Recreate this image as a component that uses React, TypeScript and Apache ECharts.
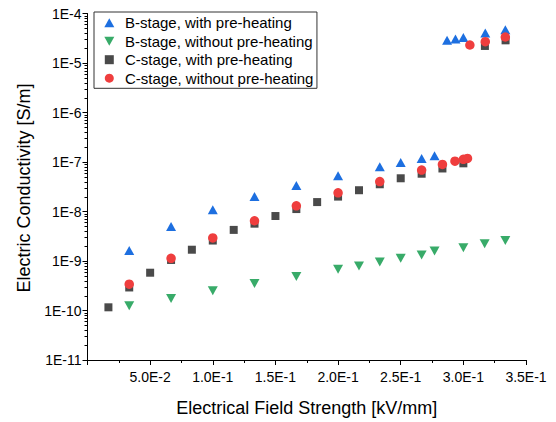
import React, { useEffect, useRef } from "react";
import * as echarts from "echarts";

// ---- data ----
const seriesNames = [
  "B-stage, with pre-heating",
  "B-stage, without pre-heating",
  "C-stage, with pre-heating",
  "C-stage, without pre-heating",
];

const bWithX = [0.0333, 0.0667, 0.1, 0.1333, 0.1667, 0.2, 0.2333, 0.25, 0.2667, 0.277, 0.287, 0.2937, 0.3, 0.3175, 0.3335];
const bWithY = [1.63e-9, 5.0e-9, 1.08e-8, 2.01e-8, 3.34e-8, 5.3e-8, 8.0e-8, 9.8e-8, 1.18e-7, 1.34e-7, 2.87e-5, 3.06e-5, 3.26e-5, 4.03e-5, 4.71e-5];

const bWithoutX = [0.0333, 0.0667, 0.1, 0.1333, 0.1667, 0.2, 0.2167, 0.2333, 0.25, 0.2667, 0.277, 0.3, 0.317, 0.3335];
const bWithoutY = [1.25e-10, 1.75e-10, 2.5e-10, 3.5e-10, 4.85e-10, 6.8e-10, 7.94e-10, 9.55e-10, 1.13e-9, 1.32e-9, 1.59e-9, 1.85e-9, 2.22e-9, 2.59e-9];

const cWithX = [0.0167, 0.0333, 0.05, 0.0667, 0.0833, 0.1, 0.1167, 0.1333, 0.15, 0.1667, 0.1833, 0.2, 0.2167, 0.2333, 0.25, 0.2667, 0.2833, 0.3, 0.3172, 0.3337];
const cWithY = [1.16e-10, 2.92e-10, 5.8e-10, 1.05e-9, 1.69e-9, 2.59e-9, 4.25e-9, 5.68e-9, 8.1e-9, 1.12e-8, 1.55e-8, 2.0e-8, 2.69e-8, 3.55e-8, 4.69e-8, 5.8e-8, 7.4e-8, 9.4e-8, 2.21e-5, 2.87e-5];

const cWithoutX = [0.0333, 0.0667, 0.1, 0.1333, 0.1667, 0.2, 0.2333, 0.2667, 0.2833, 0.2933, 0.3, 0.3033, 0.3052, 0.3175, 0.3335];
const cWithoutY = [3.4e-10, 1.13e-9, 2.93e-9, 6.5e-9, 1.3e-8, 2.38e-8, 4.02e-8, 6.87e-8, 8.93e-8, 1.04e-7, 1.13e-7, 1.18e-7, 2.31e-5, 2.7e-5, 3.35e-5];

// axis decoration: log minor ticks
const decadeExponents = [-11, -10, -9, -8, -7, -6, -5];
const minorMultipliers = [2, 3, 4, 5, 6, 7, 8, 9];

const colors = ["#1d6fe0", "#38ab69", "#4a4a4a", "#ef3e3e"];
const FONT = "'Liberation Sans', Arial, Helvetica, sans-serif";
const DOWN_TRI = "path://M0,0 L10,0 L5,9 Z";
const SQUARE = "path://M0,0 L8,0 L8,8 L0,8 Z";

const zip = (xs: number[], ys: number[]) => xs.map((x, i) => [x, ys[i]]);

export default function App() {
  const ref = useRef<HTMLDivElement>(null);

  useEffect(() => {
    if (!ref.current) return;
    const chart = echarts.init(ref.current, undefined, { renderer: "svg" });

    const minorTicks: number[][] = [];
    decadeExponents.forEach((e) => {
      minorMultipliers.forEach((m) => {
        minorTicks.push([0, m * Math.pow(10, e)]);
      });
    });

    const option: any = {
      animation: false,
      backgroundColor: "#ffffff",
      textStyle: { fontFamily: FONT },
      grid: { left: 87.5, right: 30, top: 13.5, bottom: 58, containLabel: false },
      legend: {
        orient: "vertical",
        left: 94,
        top: 12,
        padding: [3.2, 3.5, 2.6, 10.3],
        itemWidth: 21.4,
        itemHeight: 9,
        itemGap: 3.5,
        symbolKeepAspect: true,
        borderColor: "#333",
        borderWidth: 1,
        borderRadius: 0,
        selectedMode: false,
        textStyle: { fontFamily: FONT, fontSize: 15, color: "#000", lineHeight: 15 },
        data: [
          { name: seriesNames[0], icon: "path://M5,0 L10,9 L0,9 Z" },
          { name: seriesNames[1], icon: DOWN_TRI },
          { name: seriesNames[2], icon: SQUARE },
          { name: seriesNames[3], icon: "circle" },
        ],
      },
      xAxis: {
        type: "value",
        min: 0,
        max: 0.35,
        interval: 0.05,
        name: "Electrical Field Strength [kV/mm]",
        nameLocation: "middle",
        nameGap: 39,
        nameTextStyle: { fontFamily: FONT, fontSize: 18, color: "#000" },
        axisLine: { show: true, onZero: false, lineStyle: { color: "#000", width: 1 } },
        axisTick: { show: true, inside: false, length: 5, lineStyle: { color: "#000" } },
        minorTick: { show: true, splitNumber: 2, length: 3, lineStyle: { color: "#000" } },
        splitLine: { show: false },
        minorSplitLine: { show: false },
        axisLabel: {
          margin: 10,
          fontFamily: FONT,
          fontSize: 14,
          color: "#000",
          formatter: (v: number) =>
            v === 0 ? "" : v.toExponential(1).replace("e", "E").replace("+", ""),
        },
      },
      yAxis: {
        type: "log",
        logBase: 10,
        min: 1e-11,
        max: 1e-4,
        interval: 1,
        axisLine: { show: true, onZero: false, lineStyle: { color: "#000", width: 1 } },
        axisTick: { show: true, inside: false, length: 5, lineStyle: { color: "#000" } },
        splitLine: { show: false },
        axisLabel: {
          margin: 6,
          fontFamily: FONT,
          fontSize: 14,
          color: "#000",
          formatter: (v: number) => "1E" + Math.round(Math.log10(v)),
        },
      },
      graphic: [
        {
          type: "text",
          x: 23.5,
          y: 188,
          rotation: Math.PI / 2,
          style: {
            text: "Electric Conductivity [S/m]",
            fontFamily: FONT,
            fontSize: 18,
            fill: "#000",
            align: "center",
            verticalAlign: "middle",
          },
        },
      ],
      series: [
        {
          type: "custom",
          name: "minorTicks",
          silent: true,
          clip: false,
          data: minorTicks,
          renderItem: (params: any, api: any) => {
            const p = api.coord([api.value(0), api.value(1)]);
            const y = Math.round(p[1]) + 0.5;
            return {
              type: "line",
              shape: { x1: p[0] - 3, y1: y, x2: p[0], y2: y },
              style: { stroke: "#000", lineWidth: 1 },
            };
          },
          z: 1,
        },
        {
          type: "scatter",
          name: seriesNames[0],
          symbol: "triangle",
          symbolSize: [10, 9],
          itemStyle: { color: colors[0], opacity: 1 },
          data: zip(bWithX, bWithY),
          z: 2,
        },
        {
          type: "scatter",
          name: seriesNames[1],
          symbol: DOWN_TRI,
          symbolSize: [10, 9],
          itemStyle: { color: colors[1], opacity: 1 },
          data: zip(bWithoutX, bWithoutY),
          z: 2,
        },
        {
          type: "scatter",
          name: seriesNames[2],
          symbol: "rect",
          symbolSize: 8,
          itemStyle: { color: colors[2], opacity: 1 },
          data: zip(cWithX, cWithY),
          z: 3,
        },
        {
          type: "scatter",
          name: seriesNames[3],
          symbol: "circle",
          symbolSize: 9.5,
          itemStyle: { color: colors[3], opacity: 1 },
          data: zip(cWithoutX, cWithoutY),
          z: 4,
        },
      ],
    };

    chart.setOption(option);
    return () => chart.dispose();
  }, []);

  return (
    <div
      ref={ref}
      style={{ position: "fixed", left: 0, top: 0, width: 556, height: 422, background: "#fff" }}
    />
  );
}
